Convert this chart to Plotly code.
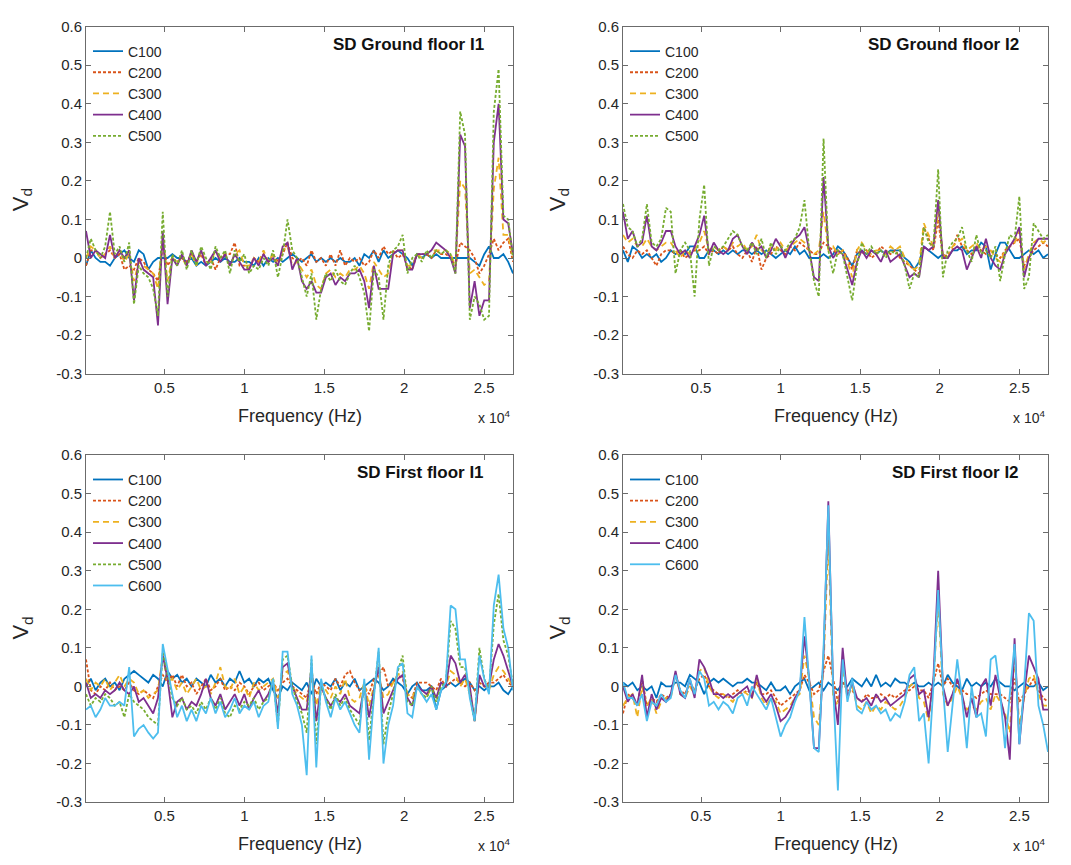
import plotly.graph_objects as go

# ---------------- data ----------------
FREQ_HZ = [100, 400, 700, 1000, 1300, 1600, 1900, 2200, 2500, 2800,
           3100, 3400, 3700, 4000, 4300, 4600, 4900, 5200, 5500, 5800,
           6100, 6400, 6700, 7000, 7300, 7600, 7900, 8200, 8500, 8800,
           9100, 9400, 9700, 10000, 10300, 10600, 10900, 11200, 11500, 11800,
           12100, 12400, 12700, 13000, 13300, 13600, 13900, 14200, 14500, 14800,
           15100, 15400, 15700, 16000, 16300, 16600, 16900, 17200, 17500, 17800,
           18100, 18400, 18700, 19000, 19300, 19600, 19900, 20200, 20500, 20800,
           21100, 21400, 21700, 22000, 22300, 22600, 22900, 23200, 23500, 23800,
           24100, 24400, 24700, 25000, 25300, 25600, 25900, 26200, 26500, 26800]

X_TICK_VALS = [5000, 10000, 15000, 20000, 25000]
X_TICK_TEXT = ["0.5", "1", "1.5", "2", "2.5"]
Y_TICK_VALS = [-0.3, -0.2, -0.1, 0, 0.1, 0.2, 0.3, 0.4, 0.5, 0.6]
Y_TICK_TEXT = ["-0.3", "-0.2", "-0.1", "0", "0.1", "0.2", "0.3", "0.4", "0.5", "0.6"]

PANEL_TITLES = ["SD Ground floor I1", "SD Ground floor I2", "SD First floor I1", "SD First floor I2"]

# Panel 1: SD Ground floor I1
g1_c100 = [-0.02, 0.02, 0.0, -0.01, -0.01, -0.02, 0.0, 0.01, 0.02, 0.0,
           -0.01, 0.02, 0.01, -0.03, -0.01, 0.0, 0.0, 0.0, 0.01, 0.0,
           0.0, -0.01, 0.0, -0.02, -0.01, -0.02, -0.01, 0.0, -0.01, 0.0,
           -0.01, -0.01, 0.0, -0.01, -0.01, -0.02, 0.0, -0.02, 0.0, -0.01,
           0.0, -0.01, 0.0, 0.01, 0.0, -0.01, 0.0, 0.01, -0.01, 0.0,
           -0.01, 0.0, -0.01, 0.0, -0.01, -0.01, 0.0, -0.02, 0.01, 0.0,
           0.02, -0.01, 0.02, 0.0, 0.01, 0.02, 0.01, 0.0, -0.02, 0.01,
           0.0, 0.01, 0.0, 0.01, 0.0, 0.0, 0.0, 0.0, 0.0, 0.0,
           0.0, -0.01, -0.02, 0.01, 0.03, 0.0, 0.0, 0.01, -0.01, -0.04]
g1_c200 = [-0.02, 0.02, 0.02, 0.0, 0.01, 0.02, 0.0, 0.01, -0.03, -0.02,
           -0.03, 0.0, -0.01, -0.03, -0.04, -0.06, 0.03, -0.02, 0.0, -0.01,
           0.0, -0.01, 0.01, -0.01, 0.01, -0.02, 0.0, -0.03, 0.0, 0.01,
           0.01, 0.04, -0.02, -0.02, -0.03, 0.0, -0.01, 0.01, -0.01, 0.01,
           -0.01, 0.01, 0.04, 0.0, -0.01, 0.0, -0.02, 0.02, -0.01, 0.0,
           -0.02, 0.01, -0.02, 0.02, -0.02, 0.0, -0.01, 0.0, -0.02, -0.01,
           0.02, 0.0, 0.03, 0.01, 0.02, 0.0, 0.01, -0.02, -0.03, 0.01,
           0.01, 0.01, 0.0, 0.02, 0.01, 0.01, 0.0, -0.02, 0.04, 0.03,
           0.02, 0.0, -0.04, -0.02, 0.01, 0.05, 0.02, 0.04, 0.05, -0.01]
g1_c300 = [0.0, 0.03, 0.02, 0.0, 0.01, 0.03, 0.0, 0.02, -0.01, 0.01,
           -0.06, -0.01, -0.02, -0.03, -0.04, -0.08, 0.05, -0.06, 0.0, -0.01,
           0.0, -0.02, 0.01, -0.02, 0.02, -0.01, -0.01, 0.02, 0.0, 0.01,
           -0.02, 0.01, 0.02, -0.02, -0.02, 0.0, -0.01, 0.02, -0.01, 0.01,
           -0.02, 0.02, 0.03, -0.02, -0.01, -0.03, -0.05, -0.03, -0.07, -0.08,
           -0.04, -0.03, -0.05, -0.04, -0.05, -0.03, -0.03, -0.02, -0.04, -0.08,
           -0.01, -0.03, -0.05, -0.04, 0.01, 0.02, 0.02, -0.02, -0.02, 0.01,
           0.0, 0.01, 0.02, 0.02, 0.02, 0.02, 0.01, -0.02, 0.20, 0.18,
           -0.04, -0.03, -0.05, -0.07, -0.06, 0.18, 0.26, 0.06, 0.06, 0.0]
g1_c400 = [0.07, 0.0, 0.02, 0.01, 0.0, 0.06, 0.0, 0.02, 0.0, 0.02,
           -0.11, 0.0, -0.03, -0.04, -0.05, -0.175, 0.07, -0.12, 0.0, -0.02,
           0.01, -0.02, 0.02, -0.01, 0.02, -0.02, 0.0, 0.02, -0.01, 0.01,
           -0.02, 0.01, -0.01, -0.03, -0.03, 0.0, -0.02, 0.01, -0.01, 0.0,
           -0.02, 0.03, 0.04, -0.03, 0.0, -0.06, -0.08, -0.06, -0.09, -0.09,
           -0.05, -0.04, -0.07, -0.05, -0.06, -0.04, -0.04, -0.03, -0.06, -0.13,
           -0.02, -0.08, -0.08, -0.08, 0.01, 0.02, 0.02, -0.03, -0.03, 0.01,
           0.01, 0.01, 0.02, 0.04, 0.03, 0.02, 0.0, -0.04, 0.32, 0.29,
           -0.13, -0.06, -0.15, -0.11, -0.11, 0.30, 0.40, 0.10, 0.09, 0.01]
g1_c500 = [0.0, 0.05, 0.02, 0.0, 0.03, 0.12, 0.01, 0.03, -0.01, 0.04,
           -0.12, -0.02, -0.04, -0.05, -0.08, -0.15, 0.12, -0.10, 0.01, -0.02,
           0.02, -0.03, 0.02, -0.02, 0.03, 0.0, -0.03, 0.03, 0.0, 0.02,
           -0.04, 0.02, -0.01, 0.01, -0.04, -0.02, -0.03, 0.0, -0.02, 0.02,
           -0.05, 0.01, 0.10, 0.02, 0.0, -0.05, -0.10, -0.04, -0.16, -0.08,
           -0.04, -0.06, -0.03, -0.06, -0.07, -0.04, -0.02, -0.05, -0.09, -0.19,
           -0.03, -0.05, -0.16, -0.02, 0.02, 0.03, 0.06, -0.04, 0.0, 0.01,
           -0.01, 0.02, 0.0, 0.02, 0.01, 0.02, 0.01, -0.04, 0.38, 0.32,
           -0.16, -0.10, -0.12, -0.16, -0.15, 0.38, 0.49, 0.11, 0.10, 0.0]

# Panel 2: SD Ground floor I2
g2_c100 = [0.02, -0.01, 0.03, 0.02, 0.0, 0.01, 0.0, 0.01, -0.01, 0.0,
           0.02, 0.01, 0.02, 0.01, 0.03, 0.03, 0.0, 0.0, 0.02, 0.02,
           0.01, 0.02, 0.01, 0.02, 0.01, 0.02, 0.02, 0.01, 0.02, 0.01,
           0.02, 0.01, 0.0, 0.01, 0.02, 0.01, 0.03, 0.01, 0.02, 0.0,
           0.0, 0.0, 0.01, 0.0, 0.01, 0.03, 0.02, 0.0, -0.02, 0.01,
           0.02, 0.01, 0.02, 0.01, 0.02, 0.01, 0.02, 0.02, 0.02, 0.0,
           -0.01, -0.03, -0.01, 0.03, 0.02, 0.01, 0.0, 0.01, 0.0, 0.02,
           0.02, 0.03, 0.01, 0.02, 0.02, 0.04, 0.03, -0.03, 0.01, 0.04,
           0.04, 0.02, 0.0, 0.0, 0.01, 0.02, 0.01, 0.02, 0.0, 0.01]
g2_c200 = [0.03, 0.01, 0.0, 0.02, 0.01, 0.02, 0.0, -0.02, 0.01, 0.02,
           0.02, 0.01, 0.02, 0.0, 0.01, 0.02, 0.02, 0.03, 0.01, 0.02,
           0.01, 0.03, 0.02, 0.03, 0.01, 0.0, 0.02, -0.01, 0.03, -0.03,
           0.0, 0.01, 0.03, 0.02, 0.01, 0.03, 0.02, 0.04, 0.03, 0.02,
           0.01, 0.01, 0.04, 0.03, 0.02, 0.01, 0.02, 0.0, -0.03, 0.02,
           0.01, 0.02, 0.0, 0.01, 0.03, 0.02, 0.01, 0.02, 0.0, -0.01,
           -0.02, -0.03, -0.04, 0.08, 0.05, 0.02, 0.10, 0.0, 0.01, 0.02,
           0.06, 0.03, 0.02, 0.01, 0.03, 0.02, 0.01, 0.02, 0.01, 0.0,
           0.02, 0.03, 0.04, 0.05, -0.02, 0.0, 0.02, 0.03, 0.04, 0.03]
g2_c300 = [0.06, 0.04, 0.05, 0.03, 0.03, 0.05, 0.03, 0.02, 0.03, 0.04,
           0.04, 0.02, 0.0, 0.02, 0.01, 0.02, 0.04, 0.07, 0.02, 0.03,
           0.02, 0.03, 0.02, 0.04, 0.03, 0.04, 0.02, 0.03, 0.06, 0.02,
           0.01, 0.03, 0.02, 0.04, 0.02, 0.03, 0.04, 0.05, 0.04, 0.02,
           0.01, 0.02, 0.12, 0.02, 0.03, 0.01, 0.02, -0.01, -0.05, 0.02,
           0.04, 0.02, 0.01, 0.02, 0.02, 0.01, 0.03, 0.02, 0.03, 0.0,
           -0.02, -0.03, -0.02, 0.09, 0.06, 0.03, 0.12, 0.01, 0.0, 0.03,
           0.04, 0.05, 0.02, 0.03, 0.04, 0.02, 0.03, 0.02, 0.0, -0.01,
           0.02, 0.03, 0.04, 0.07, -0.03, 0.01, 0.04, 0.05, 0.04, 0.05]
g2_c400 = [0.12, 0.05, 0.07, 0.03, 0.04, 0.11, 0.03, 0.02, 0.04, 0.07,
           0.07, 0.03, 0.01, 0.02, 0.0, 0.03, 0.06, 0.11, 0.01, 0.04,
           0.02, 0.01, 0.02, 0.05, 0.06, 0.03, 0.01, 0.04, 0.02, 0.03,
           0.0, 0.02, 0.05, 0.03, 0.0, 0.03, 0.05, 0.06, 0.08, 0.02,
           -0.05, -0.06, 0.21, 0.03, 0.0, 0.02, 0.01, -0.03, -0.07, -0.01,
           0.02, 0.0, 0.02, 0.01, -0.01, 0.02, -0.01, 0.0, 0.01, -0.02,
           -0.05, -0.04, -0.05, 0.03, 0.02, 0.03, 0.15, 0.0, 0.0, 0.02,
           0.03, 0.02, -0.03, 0.0, 0.03, 0.0, 0.05, 0.0, -0.02, -0.03,
           0.01, 0.03, 0.05, 0.08, -0.05, 0.0, 0.03, 0.05, 0.05, 0.05]
g2_c500 = [0.14, 0.08, 0.07, 0.03, 0.05, 0.14, 0.04, 0.03, 0.05, 0.13,
           0.12, -0.04, 0.02, 0.04, 0.02, -0.10, 0.10, 0.19, -0.02, 0.03,
           0.02, 0.03, 0.05, 0.07, 0.06, 0.03, 0.02, 0.04, 0.01, 0.05,
           0.0, 0.04, 0.01, 0.03, 0.02, 0.04, 0.05, 0.08, 0.15, 0.02,
           -0.06, -0.10, 0.31, 0.02, -0.04, 0.02, 0.01, -0.05, -0.11, -0.02,
           0.04, 0.01, 0.03, 0.01, 0.02, 0.0, 0.02, 0.01, 0.02, -0.02,
           -0.08, -0.04, -0.05, 0.08, 0.04, 0.03, 0.23, -0.05, 0.02, 0.04,
           0.05, 0.08, 0.02, -0.01, 0.06, 0.01, 0.02, 0.0, 0.03, -0.06,
           0.01, 0.06, 0.05, 0.16, -0.08, -0.05, 0.09, 0.07, 0.05, 0.06]

# Panel 3: SD First floor I1
f1_c100 = [0.0, 0.02, -0.01, 0.01, 0.02, 0.0, 0.01, -0.01, 0.02, 0.03,
           0.04, 0.03, 0.02, 0.01, 0.03, 0.02, 0.0, 0.04, 0.02, 0.03,
           0.01, 0.02, 0.0, 0.02, 0.01, 0.0, 0.03, 0.01, 0.02, 0.0,
           0.02, 0.01, 0.04, 0.01, 0.02, 0.0, 0.02, 0.01, 0.02, -0.01,
           -0.03, 0.0, -0.01, 0.01, 0.0, -0.01, 0.01, -0.02, 0.02, 0.0,
           0.01, 0.0, 0.02, -0.01, 0.01, 0.0, 0.02, -0.01, 0.0, 0.01,
           0.02, 0.01, -0.01, 0.0, 0.02, 0.01, 0.0, -0.02, 0.0, 0.01,
           -0.01, -0.01, 0.0, -0.06, -0.01, 0.0, 0.01, 0.0, 0.01, 0.02,
           0.01, -0.01, 0.0, -0.01, 0.0, 0.0, 0.01, -0.01, -0.02, 0.0]
f1_c200 = [0.07, -0.01, -0.02, 0.0, -0.01, 0.01, -0.01, 0.0, -0.01, 0.01,
           -0.01, -0.02, -0.01, -0.02, -0.03, 0.0, 0.03, 0.01, 0.03, 0.0,
           0.03, 0.0, 0.01, -0.02, 0.0, 0.02, -0.01, 0.0, 0.02, -0.01,
           0.0, -0.01, 0.01, 0.0, -0.02, 0.0, 0.01, -0.01, 0.0, 0.01,
           -0.01, 0.01, 0.02, 0.0, -0.01, -0.02, -0.03, 0.02, -0.02, 0.01,
           0.0, -0.01, 0.02, 0.0, 0.03, 0.04, 0.01, -0.01, 0.0, -0.02,
           0.02, 0.03, 0.05, 0.0, 0.01, 0.03, 0.02, -0.02, -0.03, 0.01,
           0.01, 0.01, 0.0, -0.01, 0.02, 0.0, 0.01, 0.02, 0.01, 0.0,
           0.01, -0.01, 0.01, 0.0, 0.01, 0.01, 0.02, 0.03, 0.01, 0.0]
f1_c300 = [0.02, -0.01, 0.01, 0.0, 0.02, -0.01, 0.01, 0.03, 0.0, 0.02,
           0.01, -0.02, -0.01, -0.03, -0.02, -0.01, 0.08, 0.01, 0.02, -0.01,
           0.01, -0.02, 0.0, 0.02, -0.01, 0.0, -0.02, 0.01, 0.05, 0.0,
           -0.01, 0.02, -0.02, 0.0, -0.03, 0.01, -0.01, 0.0, 0.01, 0.02,
           -0.03, 0.03, 0.04, 0.0, -0.02, -0.03, -0.04, 0.03, -0.05, 0.01,
           -0.01, -0.03, 0.0, -0.02, 0.02, -0.03, -0.04, -0.03, 0.01, -0.05,
           0.0, 0.03, -0.03, -0.02, 0.01, 0.03, 0.04, -0.02, -0.03, 0.0,
           -0.02, -0.03, 0.0, -0.03, 0.01, 0.0, 0.04, 0.03, 0.0, 0.02,
           -0.02, -0.09, 0.02, 0.0, -0.01, 0.03, 0.05, 0.04, 0.02, 0.0]
f1_c400 = [0.01, -0.03, -0.02, -0.03, -0.01, -0.02, -0.01, 0.01, -0.01, -0.02,
           0.0, -0.04, -0.03, -0.05, -0.07, -0.03, 0.08, 0.02, -0.08, -0.04,
           -0.03, -0.06, -0.04, -0.05, -0.02, 0.02, -0.03, -0.05, -0.02, -0.06,
           -0.04, -0.02, -0.05, -0.02, -0.06, -0.03, -0.01, -0.04, -0.02, 0.01,
           -0.07, 0.05, 0.06, 0.0, -0.03, -0.06, -0.06, 0.05, -0.09, 0.0,
           -0.03, -0.05, -0.03, -0.04, -0.02, -0.05, -0.06, -0.07, 0.0, -0.08,
           -0.01, 0.05, -0.07, -0.04, -0.01, 0.02, 0.03, -0.03, -0.05, 0.0,
           -0.01, -0.02, 0.0, -0.03, 0.01, 0.0, 0.08, 0.06, 0.01, 0.03,
           0.0, -0.09, 0.03, 0.0, 0.0, 0.07, 0.11, 0.08, 0.04, 0.0]
f1_c500 = [-0.02, -0.05, -0.03, -0.04, -0.02, -0.03, -0.05, -0.04, -0.08, -0.02,
           -0.04, -0.05, -0.06, -0.08, -0.09, -0.10, 0.09, 0.03, -0.03, -0.05,
           -0.03, -0.06, -0.05, -0.07, -0.04, -0.06, -0.03, -0.06, -0.03, -0.07,
           -0.08, -0.05, -0.06, -0.04, -0.05, -0.03, -0.06, -0.04, -0.03, 0.02,
           -0.10, 0.07, 0.08, 0.0, -0.04, -0.07, -0.12, 0.07, -0.15, 0.0,
           -0.03, -0.06, -0.02, -0.05, -0.03, -0.06, -0.08, -0.10, 0.01, -0.14,
           -0.02, 0.09, -0.15, -0.07, -0.02, 0.04, 0.08, -0.04, -0.05, 0.0,
           -0.02, -0.03, 0.0, -0.04, 0.0, 0.01, 0.17, 0.15, 0.05, 0.05,
           -0.02, -0.09, 0.10, 0.02, -0.01, 0.16, 0.24, 0.12, 0.08, 0.0]
f1_c600 = [-0.06, -0.05, -0.08, -0.06, -0.03, -0.05, -0.05, -0.04, -0.05, 0.05,
           -0.13, -0.11, -0.10, -0.12, -0.135, -0.12, 0.11, 0.04, -0.02, -0.08,
           -0.05, -0.09, -0.06, -0.09, -0.05, -0.07, -0.03, -0.07, -0.04, -0.08,
           -0.06, -0.03, -0.07, -0.05, -0.06, -0.04, -0.08, -0.05, -0.04, 0.02,
           -0.11, 0.09, 0.09, -0.02, -0.05, -0.10, -0.23, 0.08, -0.21, 0.02,
           -0.04, -0.08, -0.03, -0.06, -0.04, -0.07, -0.10, -0.12, 0.02, -0.19,
           -0.03, 0.10, -0.20, -0.10, -0.05, 0.05, 0.06, -0.07, -0.08, 0.0,
           -0.02, -0.04, -0.02, -0.06, -0.01, 0.01, 0.21, 0.20, 0.07, 0.07,
           -0.03, -0.09, 0.08, 0.02, -0.02, 0.21, 0.29, 0.15, 0.10, -0.01]

# Panel 4: SD First floor I2
f2_c100 = [0.01, 0.0, 0.01, -0.01, 0.0, -0.01, 0.0, -0.03, 0.01, 0.0,
           0.0, 0.01, 0.01, 0.0, 0.03, 0.02, 0.01, -0.02, 0.01, 0.02,
           0.01, 0.02, 0.01, 0.0, 0.01, 0.01, 0.02, 0.01, 0.01, 0.0,
           -0.01, 0.01, -0.01, -0.01, 0.0, -0.02, 0.0, 0.01, 0.02, -0.01,
           0.0, 0.01, -0.01, 0.01, 0.0, -0.01, 0.01, 0.0, 0.02, 0.01,
           0.0, 0.02, 0.0, 0.03, 0.0, 0.01, 0.0, 0.02, 0.01, 0.01,
           0.0, 0.01, 0.0, 0.0, 0.01, 0.0, 0.01, 0.0, 0.03, 0.01,
           0.0, -0.01, 0.02, 0.0, 0.01, 0.0, 0.01, 0.0, 0.02, 0.01,
           0.0, 0.0, -0.01, 0.0, 0.01, 0.0, 0.0, 0.01, -0.01, 0.0]
f2_c200 = [-0.07, -0.02, -0.03, -0.05, 0.02, -0.05, -0.03, -0.04, -0.02, -0.03,
           -0.02, 0.03, -0.01, -0.02, 0.01, -0.01, 0.02, 0.03, 0.0, -0.01,
           -0.02, -0.02, -0.03, -0.02, -0.01, -0.02, -0.01, -0.02, 0.01, -0.02,
           -0.02, -0.01, -0.03, -0.05, -0.04, -0.03, -0.02, -0.01, 0.03, 0.01,
           -0.02, -0.01, 0.04, 0.08, 0.02, -0.04, 0.01, -0.01, -0.01, -0.03,
           -0.04, -0.02, -0.03, -0.03, -0.02, -0.03, -0.02, -0.03, -0.02, -0.01,
           -0.01, 0.0, -0.01, -0.01, -0.03, 0.01, 0.06, 0.0, 0.02, 0.0,
           0.01, -0.01, -0.02, -0.02, -0.03, -0.02, -0.01, -0.02, -0.02, -0.02,
           -0.03, -0.04, 0.02, -0.04, -0.02, 0.0, 0.02, -0.01, -0.03, -0.04]
f2_c300 = [-0.05, -0.03, -0.02, -0.08, 0.0, -0.05, -0.03, -0.07, -0.04, -0.03,
           -0.03, 0.03, -0.02, -0.03, 0.0, -0.02, 0.04, 0.05, 0.0, -0.02,
           -0.03, -0.02, -0.03, -0.04, -0.02, -0.01, -0.02, -0.03, 0.02, -0.03,
           -0.05, -0.03, -0.04, -0.07, -0.06, -0.05, -0.03, -0.02, 0.08, 0.02,
           -0.08, -0.10, 0.05, 0.38, -0.03, -0.05, 0.05, -0.03, 0.0, -0.05,
           -0.06, -0.04, -0.07, -0.05, -0.06, -0.04, -0.05, -0.06, -0.05, -0.03,
           0.0, 0.01, -0.03, -0.04, -0.09, 0.01, 0.22, -0.02, -0.05, -0.03,
           0.0, -0.03, -0.06, -0.05, -0.06, -0.04, -0.03, -0.06, -0.02, -0.04,
           -0.07, -0.12, 0.08, -0.10, -0.03, 0.02, 0.03, -0.02, -0.05, -0.05]
f2_c400 = [0.0, -0.04, -0.02, -0.05, 0.03, -0.08, -0.02, -0.06, -0.03, -0.04,
           -0.02, 0.04, -0.02, -0.03, 0.02, -0.03, 0.07, 0.05, 0.02, -0.02,
           -0.02, -0.03, -0.02, -0.03, -0.02, -0.01, 0.0, -0.03, 0.03, -0.02,
           -0.04, -0.02, -0.05, -0.09, -0.08, -0.06, -0.03, -0.01, 0.13, 0.02,
           -0.16, -0.16, 0.08, 0.48, 0.0, -0.10, 0.10, -0.03, 0.01, -0.03,
           -0.04, -0.03, -0.05, -0.02, -0.04, -0.03, -0.05, -0.04, -0.03, -0.02,
           0.02, 0.03, -0.02, -0.01, -0.08, 0.02, 0.30, 0.0, -0.05, -0.02,
           0.02, -0.02, -0.08, -0.03, -0.08, 0.0, 0.02, -0.05, 0.03, -0.03,
           -0.08, -0.19, 0.125, -0.15, -0.02, 0.08, 0.05, 0.02, -0.06, -0.06]
f2_c600 = [0.01, -0.03, -0.03, -0.05, -0.02, -0.09, -0.04, -0.05, -0.02, -0.04,
           -0.03, 0.03, -0.01, -0.03, 0.02, -0.02, 0.04, 0.02, -0.05, -0.04,
           -0.06, -0.04, -0.05, -0.07, -0.03, -0.02, -0.05, 0.0, -0.02, -0.04,
           -0.06, -0.03, -0.08, -0.13, -0.10, -0.08, -0.04, -0.01, 0.18, 0.02,
           -0.16, -0.17, 0.10, 0.47, 0.0, -0.27, 0.07, -0.04, 0.02, -0.06,
           -0.07, -0.04, -0.06, -0.05, -0.07, -0.06, -0.09, -0.07, -0.08, -0.04,
           0.03, 0.05, -0.09, -0.07, -0.20, 0.0, 0.25, 0.0, -0.17, -0.05,
           0.07, -0.03, -0.16, 0.0, -0.08, -0.07, -0.13, 0.07, 0.08, -0.02,
           -0.16, -0.02, 0.11, -0.15, 0.0, 0.19, 0.17, -0.05, -0.10, -0.17]

SERIES_NAMES_5 = ["C100", "C200", "C300", "C400", "C500"]
SERIES_NAMES_6 = ["C100", "C200", "C300", "C400", "C500", "C600"]
SERIES_NAMES_P4 = ["C100", "C200", "C300", "C400", "C600"]

panels = [
    (SERIES_NAMES_5, [g1_c100, g1_c200, g1_c300, g1_c400, g1_c500]),
    (SERIES_NAMES_5, [g2_c100, g2_c200, g2_c300, g2_c400, g2_c500]),
    (SERIES_NAMES_6, [f1_c100, f1_c200, f1_c300, f1_c400, f1_c500, f1_c600]),
    (SERIES_NAMES_P4, [f2_c100, f2_c200, f2_c300, f2_c400, f2_c600]),
]

# ---------------- styles ----------------
STYLE = {
    "C100": dict(color="#0072BD", dash="solid"),
    "C200": dict(color="#D95319", dash="3px,2px"),
    "C300": dict(color="#EDB120", dash="6px,4px"),
    "C400": dict(color="#7E2F8E", dash="solid"),
    "C500": dict(color="#77AC30", dash="3px,2px"),
    "C600": dict(color="#4DBEEE", dash="solid"),
}

W, H = 1071, 865
# plot-area pixel boxes (left, right, top, bottom)
BOXES = [(86, 513, 18, 372), (623, 1048, 18, 372),
         (86, 513, 455, 809), (623, 1048, 455, 809)]

FONT = "Liberation Sans, Arial, sans-serif"
AX_COLOR = "#6b6b6b"
TXT_COLOR = "#262626"

fig = go.Figure()

for p, (names, seriesset) in enumerate(panels):
    k = "" if p == 0 else str(p + 1)
    for name, vals in zip(names, seriesset):
        st = STYLE[name]
        fig.add_trace(go.Scatter(
            x=FREQ_HZ, y=vals, mode="lines", name=name,
            line=dict(color=st["color"], dash=st["dash"], width=1.8),
            xaxis="x" + k, yaxis="y" + k,
            legend="legend" + k, showlegend=True,
        ))

layout = dict(
    width=W, height=H, margin=dict(l=0, r=0, t=0, b=0),
    paper_bgcolor="white", plot_bgcolor="white",
    font=dict(family=FONT, color=TXT_COLOR, size=14),
    annotations=[],
)

for p, (l, r, t, b) in enumerate(BOXES):
    k = "" if p == 0 else str(p + 1)
    xd = [l / W, r / W]
    yd = [1 - b / H, 1 - t / H]
    layout["xaxis" + k] = dict(
        domain=xd, anchor="y" + k, range=[100, 26800],
        tickvals=X_TICK_VALS, ticktext=X_TICK_TEXT,
        ticks="inside", ticklen=5, tickcolor=AX_COLOR,
        showline=True, linecolor=AX_COLOR, linewidth=1, mirror="ticks",
        showgrid=False, zeroline=False,
        tickfont=dict(size=15, color=TXT_COLOR, family=FONT),
    )
    layout["yaxis" + k] = dict(
        domain=yd, anchor="x" + k, range=[-0.3, 0.6],
        tickvals=Y_TICK_VALS, ticktext=Y_TICK_TEXT,
        ticks="inside", ticklen=5, tickcolor=AX_COLOR,
        showline=True, linecolor=AX_COLOR, linewidth=1, mirror="ticks",
        showgrid=False, zeroline=False,
        tickfont=dict(size=15, color=TXT_COLOR, family=FONT),
    )
    layout["legend" + k] = dict(
        x=(l + 2) / W, y=1 - (t + 9) / H, xanchor="left", yanchor="top",
        bgcolor="rgba(0,0,0,0)", borderwidth=0,
        font=dict(size=14, color=TXT_COLOR, family=FONT),
        tracegroupgap=0, itemwidth=30,
    )
    # panel title
    layout["annotations"].append(dict(
        text="<b>" + PANEL_TITLES[p] + "</b>", xref="paper", yref="paper",
        x=(r - 27) / W, y=1 - (t + 18) / H, xanchor="right", yanchor="middle",
        showarrow=False, font=dict(size=17, color="#111111", family=FONT)))
    # x title
    layout["annotations"].append(dict(
        text="Frequency (Hz)", xref="paper", yref="paper",
        x=(l + r) / 2 / W, y=1 - (b + 43) / H, xanchor="center", yanchor="middle",
        showarrow=False, font=dict(size=18, color=TXT_COLOR, family=FONT)))
    # exponent
    layout["annotations"].append(dict(
        text="x 10<sup>4</sup>", xref="paper", yref="paper",
        x=(r - 1) / W, y=1 - (b + 44) / H, xanchor="right", yanchor="middle",
        showarrow=False, font=dict(size=14, color=TXT_COLOR, family=FONT)))
    # y title
    layout["annotations"].append(dict(
        text="V<sub>d</sub>", xref="paper", yref="paper",
        x=(l - 64) / W, y=1 - ((t + b) / 2) / H, xanchor="center", yanchor="middle",
        textangle=-90, showarrow=False,
        font=dict(size=22, color=TXT_COLOR, family=FONT)))

fig.update_layout(**layout)
fig.write_html("out.html")
